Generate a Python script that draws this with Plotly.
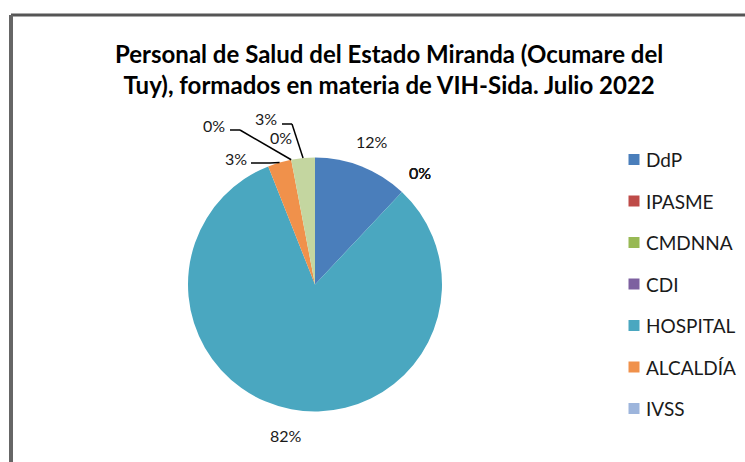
import math
import plotly.graph_objects as go

W, H = 745, 462

# Data
categories = ["DdP", "IPASME", "CMDNNA", "CDI", "HOSPITAL", "ALCALDÍA", "IVSS", "Otro A", "Otro B"]
values = [12, 0, 0, 0, 82, 3, 0, 3, 0]
legend_categories = ["DdP", "IPASME", "CMDNNA", "CDI", "HOSPITAL", "ALCALDÍA", "IVSS"]
colors = ["#4A7EBB", "#BE4B48", "#98B954", "#7D60A0", "#4AA7C0", "#F0914B", "#9DB5DC", "#C4D6A0", "#E6B9B8"]
title_text = "Personal de Salud del Estado Miranda (Ocumare del<br>Tuy), formados en materia de VIH-Sida. Julio 2022"

FONT = "Lato"

# pie geometry (pixels)
cx, cy, R = 315, 284.5, 127

def px(x):
    return x / W

def py(y):
    return 1 - y / H

fig = go.Figure()
fig.add_trace(go.Pie(
    labels=categories, values=values, sort=False, direction="clockwise", rotation=0,
    marker=dict(colors=colors, line=dict(width=0)),
    textinfo="none", hoverinfo="label+percent", showlegend=False,
    domain=dict(x=[px(cx - R), px(cx + R)], y=[py(cy + R), py(cy - R)]),
))

# percentage labels
total = sum(values)
cum = 0
mids = []
for v in values:
    mids.append((cum + v / 2) / total * 2 * math.pi)
    cum += v

def polar(theta, r):
    return cx + r * math.sin(theta), cy - r * math.cos(theta)

# manually placed labels (label centre, leader-line start points)
manual = {
    5: (236, 158, [(251, 163), (270, 163)]),
    6: (214, 125, [(230, 130), (240, 130)]),
    7: (266, 118, [(282, 124), (292, 124)]),
    8: (281, 137, None),
}
annotations = []
shapes = []
for i, v in enumerate(values):
    pct = f"{round(v / total * 100)}%"
    if i in manual:
        lx, ly, lead = manual[i]
        if lead:
            ex, ey = polar(mids[i], R)
            pts = lead + [(ex, ey)]
            for (x0, y0), (x1, y1) in zip(pts[:-1], pts[1:]):
                shapes.append(dict(type="line", xref="paper", yref="paper",
                                   x0=px(x0), y0=py(y0), x1=px(x1), y1=py(y1),
                                   line=dict(color="#000000", width=1.5)))
    else:
        lx, ly = polar(mids[i], R * 1.21)
    annotations.append(dict(text=pct, x=px(lx), y=py(ly), xref="paper", yref="paper",
                            showarrow=False, xanchor="center", yanchor="middle",
                            font=dict(family=FONT, size=16, color="#1a1a1a")))

# title
annotations.append(dict(text="<b>" + title_text.replace("<br>", "</b><br><b>") + "</b>",
                        x=px(389), y=py(69), xref="paper", yref="paper",
                        showarrow=False, xanchor="center", yanchor="middle",
                        font=dict(family=FONT, size=24, color="#000000"),
                        align="center"))

# legend (drawn manually for Excel-like spacing)
leg_x, leg_y0, leg_dy, sq = 634, 159.5, 41.5, 11
for i, name in enumerate(legend_categories):
    yy = leg_y0 + i * leg_dy
    shapes.append(dict(type="rect", xref="paper", yref="paper",
                       x0=px(leg_x - sq / 2), x1=px(leg_x + sq / 2),
                       y0=py(yy + sq / 2), y1=py(yy - sq / 2),
                       fillcolor=colors[i], line=dict(width=0)))
    annotations.append(dict(text=name, x=px(644), y=py(yy), xref="paper", yref="paper",
                            showarrow=False, xanchor="left", yanchor="middle",
                            font=dict(family=FONT, size=19, color="#1a1a1a")))

# chart frame (top and left edges visible)
shapes.append(dict(type="line", xref="paper", yref="paper", x0=px(11), y0=py(15), x1=1.0, y1=py(15),
                   line=dict(color="#555555", width=3)))
shapes.append(dict(type="line", xref="paper", yref="paper", x0=px(11), y0=py(15), x1=px(11), y1=0,
                   line=dict(color="#666666", width=4)))

fig.update_layout(
    width=W, height=H,
    margin=dict(l=0, r=0, t=0, b=0),
    paper_bgcolor="white", plot_bgcolor="white",
    showlegend=False,
    annotations=annotations,
    shapes=shapes,
)

fig.write_html("out.html", config={"displayModeBar": False},
               post_script="document.body.style.margin='0';")
